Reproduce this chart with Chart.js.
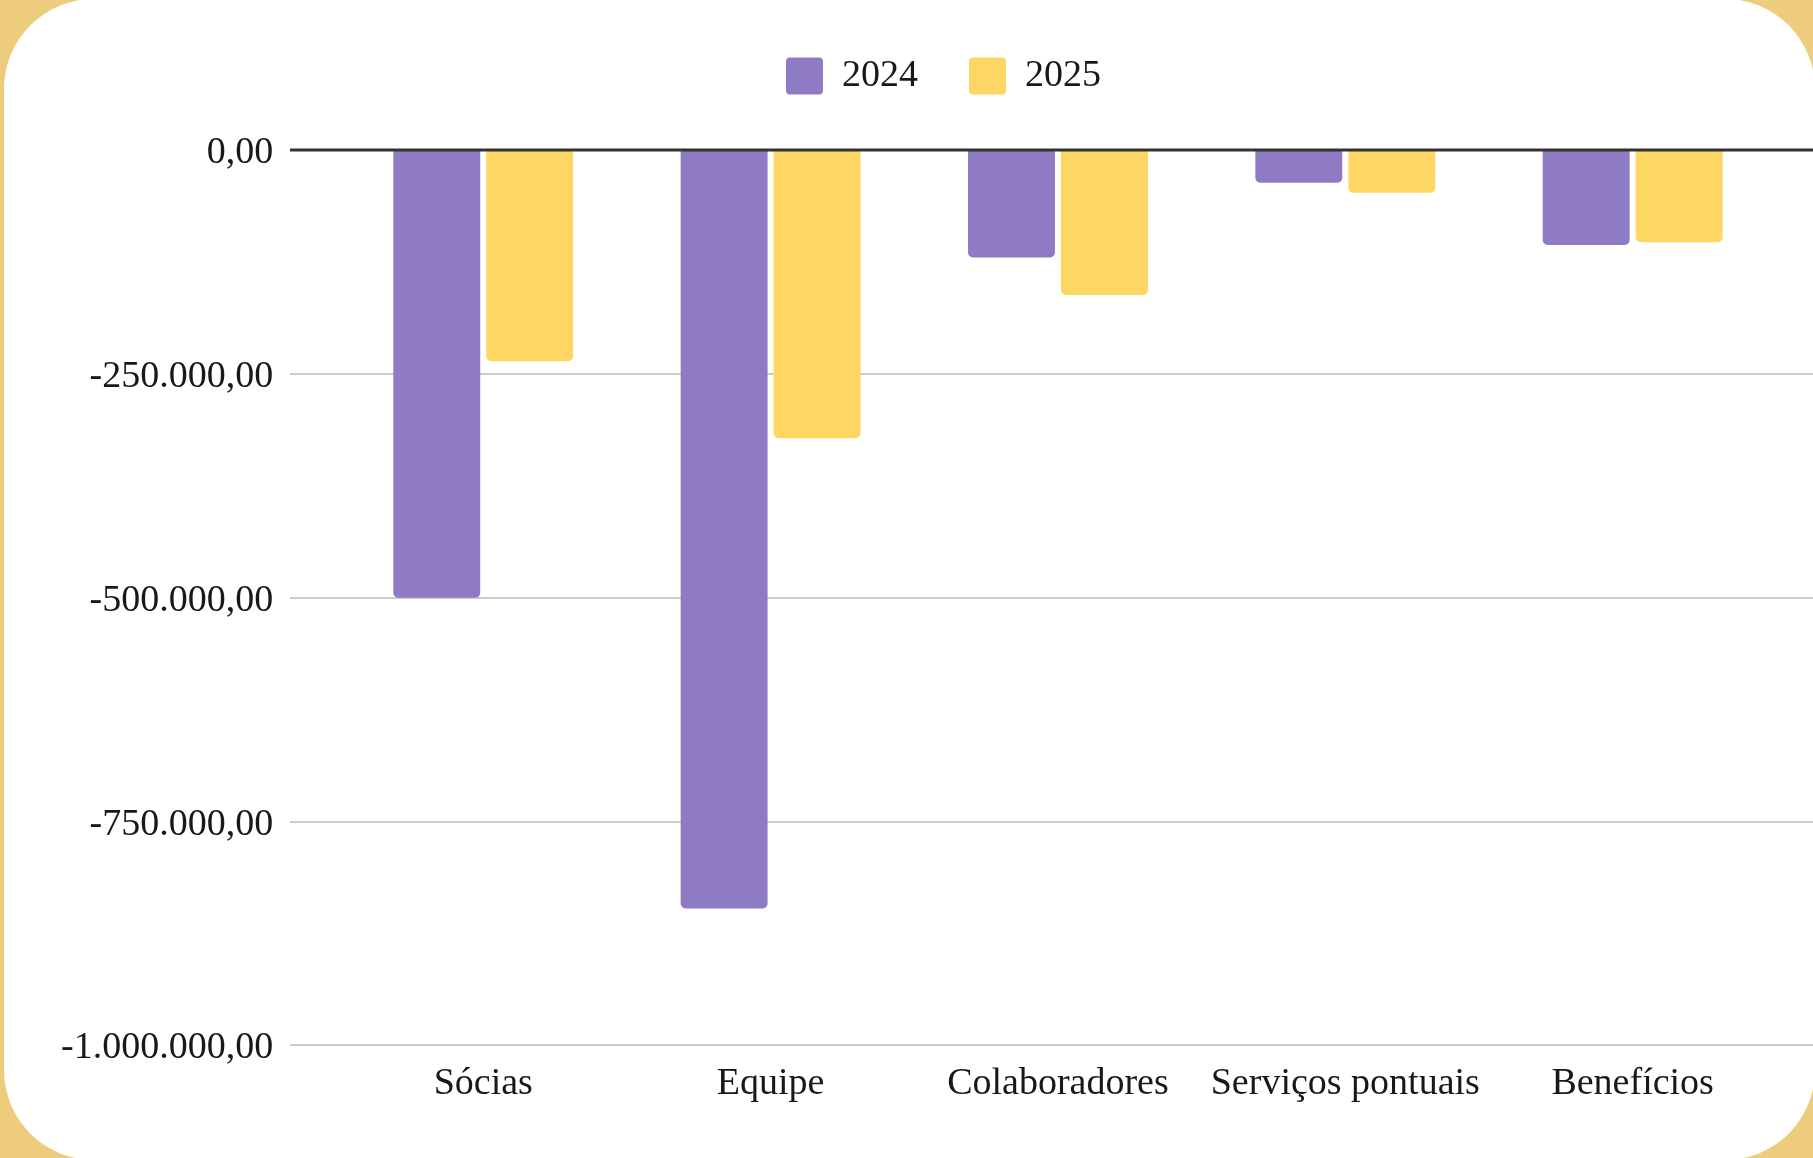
<!DOCTYPE html>
<html>
<head>
<meta charset="utf-8">
<script src="https://cdn.jsdelivr.net/npm/chart.js@4.4.1/dist/chart.umd.min.js"></script>
<style>
  html, body { margin: 0; padding: 0; width: 1813px; height: 1158px; overflow: hidden; background: #edcd7d; }
  .card { position: absolute; left: 4px; top: -1px; width: 1811px; height: 1161px; background: #fff; border-radius: 90px; }
  #chart { position: absolute; left: 0; top: 0; }
</style>
</head>
<body>
<div class="card"></div>
<canvas id="chart" width="1843" height="1158"></canvas>
<script>
const categories = ['Sócias', 'Equipe', 'Colaboradores', 'Serviços pontuais', 'Benefícios'];
const values2024 = [-500000, -847000, -120000, -36500, -106000];
const values2025 = [-236000, -322000, -162000, -47700, -103000];
const yTicks = [0, -250000, -500000, -750000, -1000000];

const fontFamily = "'Liberation Serif', 'Times New Roman', serif";
const textColor = '#181818';

function formatBR(v) {
  const neg = v < 0;
  const parts = Math.abs(v).toFixed(2).split('.');
  const intPart = parts[0].replace(/\B(?=(\d{3})+(?!\d))/g, '.');
  return (neg ? '-' : '') + intPart + ',' + parts[1];
}

// room between legend and plot
const legendGap = {
  id: 'legendGap',
  beforeInit(chart) {
    const fit = chart.legend.fit;
    chart.legend.fit = function () {
      fit.bind(chart.legend)();
      this.height += 45;
    };
  }
};

// dark zero line drawn above the bars
const zeroLine = {
  id: 'zeroLine',
  afterDatasetsDraw(chart) {
    const { ctx, chartArea, scales } = chart;
    const y = scales.y.getPixelForValue(0);
    ctx.save();
    ctx.strokeStyle = '#333';
    ctx.lineWidth = 3;
    ctx.beginPath();
    ctx.moveTo(chartArea.left, y);
    ctx.lineTo(chartArea.right, y);
    ctx.stroke();
    ctx.restore();
  }
};

new Chart(document.getElementById('chart'), {
  type: 'bar',
  data: {
    datasets: [
      {
        label: '2024',
        data: values2024.map((v, i) => ({ x: i, y: v })),
        backgroundColor: '#8e7bc3',
        borderWidth: 0,
        borderRadius: 5
      },
      {
        label: '2025',
        data: values2025.map((v, i) => ({ x: i, y: v })),
        backgroundColor: '#fdd663',
        borderWidth: 0,
        borderRadius: 5
      }
    ]
  },
  options: {
    responsive: false,
    animation: false,
    categoryPercentage: 0.647,
    barPercentage: 0.935,
    layout: { padding: { left: 44, right: 0, top: 6, bottom: 35 } },
    plugins: {
      tooltip: { enabled: false },
      legend: {
        position: 'top',
        labels: {
          boxWidth: 37,
          boxHeight: 37,
          useBorderRadius: true,
          borderRadius: 4,
          padding: 51,
          color: textColor,
          font: { family: fontFamily, size: 38 }
        }
      }
    },
    scales: {
      x: {
        type: 'linear',
        offset: false,
        min: -0.672,
        max: 4.732,
        afterBuildTicks: scale => {
          scale.ticks = categories.map((c, i) => ({ value: i }));
        },
        grid: { display: false, drawTicks: false, offset: false },
        border: { display: false },
        ticks: {
          autoSkip: false,
          maxRotation: 0,
          padding: 16,
          color: textColor,
          font: { family: fontFamily, size: 38 },
          callback: v => categories[v]
        }
      },
      y: {
        min: -1000000,
        max: 0,
        afterBuildTicks: scale => {
          scale.ticks = yTicks.map(v => ({ value: v }));
        },
        border: { display: false },
        grid: {
          drawTicks: false,
          color: ctx => (ctx.tick && ctx.tick.value === 0 ? '#333' : '#cccccc'),
          lineWidth: 2
        },
        ticks: {
          padding: 17,
          labelOffset: 3,
          color: textColor,
          font: { family: fontFamily, size: 38 },
          callback: v => formatBR(v)
        }
      }
    }
  },
  plugins: [legendGap, zeroLine]
});
</script>
</body>
</html>
